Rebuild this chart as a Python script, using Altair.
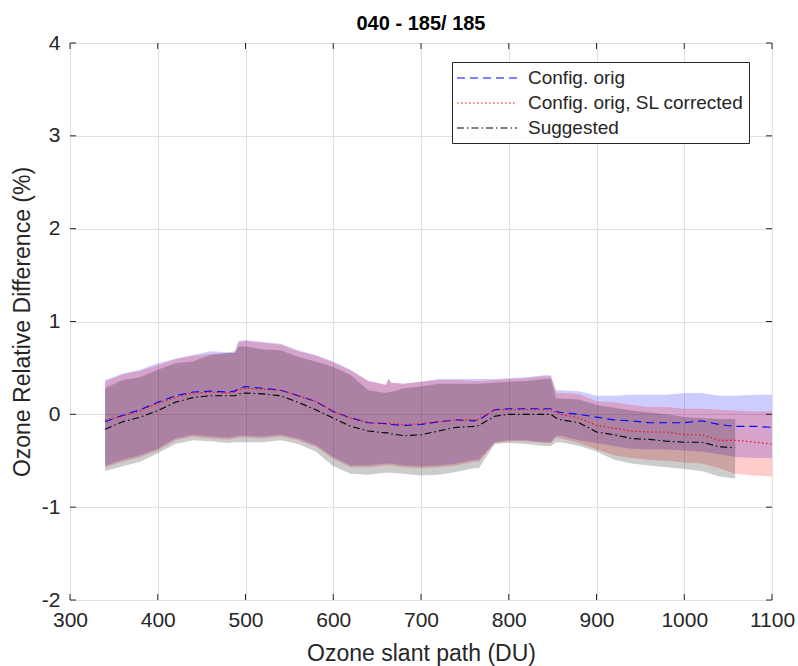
import altair as alt
import pandas as pd

# ---------------- data ----------------
X = [340, 360, 380, 400, 420, 440, 460, 480, 488, 492, 500, 520, 540, 560, 580,
     600, 620, 640, 660, 663, 666, 680, 700, 720, 740, 760, 766, 784, 800, 820,
     840, 848, 854, 860, 880, 900, 920, 940, 960, 980, 1000, 1020, 1040, 1058,
     1080, 1100]

blue_mid = [-0.08, -0.01, 0.05, 0.13, 0.20, 0.24, 0.25, 0.24, 0.25, 0.28, 0.30, 0.28,
            0.26, 0.20, 0.14, 0.03, -0.04, -0.09, -0.10, -0.10, -0.11, -0.12, -0.11,
            -0.08, -0.06, -0.07, -0.06, 0.05, 0.06, 0.06, 0.06, 0.06, 0.03, 0.02, 0.0,
            -0.03, -0.06, -0.07, -0.09, -0.09, -0.09, -0.07, -0.11, -0.13, -0.13, -0.14]
blue_up = [0.37, 0.44, 0.48, 0.55, 0.60, 0.64, 0.68, 0.67, 0.68, 0.79, 0.80, 0.78,
           0.76, 0.69, 0.64, 0.57, 0.48, 0.36, 0.32, 0.39, 0.34, 0.33, 0.35, 0.38,
           0.38, 0.38, 0.38, 0.38, 0.39, 0.40, 0.42, 0.42, 0.26, 0.26, 0.25, 0.20,
           0.20, 0.21, 0.21, 0.21, 0.23, 0.23, 0.20, 0.20, 0.21, 0.21]
blue_lo = [-0.55, -0.49, -0.44, -0.37, -0.26, -0.22, -0.24, -0.25, -0.24, -0.23, -0.23,
           -0.24, -0.22, -0.26, -0.33, -0.46, -0.55, -0.55, -0.53, -0.53, -0.53, -0.55,
           -0.56, -0.55, -0.53, -0.49, -0.49, -0.30, -0.28, -0.28, -0.30, -0.30, -0.23,
           -0.23, -0.28, -0.31, -0.34, -0.37, -0.38, -0.38, -0.39, -0.40, -0.43, -0.46,
           -0.47, -0.47]

red_mid = [-0.06, -0.02, 0.04, 0.12, 0.18, 0.23, 0.24, 0.23, 0.24, 0.27, 0.28, 0.27,
           0.26, 0.20, 0.14, 0.03, -0.04, -0.09, -0.10, -0.10, -0.10, -0.11, -0.10,
           -0.08, -0.06, -0.06, -0.05, 0.05, 0.05, 0.05, 0.05, 0.05, 0.02, 0.0, -0.04,
           -0.12, -0.15, -0.18, -0.19, -0.19, -0.22, -0.22, -0.28, -0.28, -0.30, -0.32]
red_up = [0.35, 0.43, 0.47, 0.53, 0.59, 0.63, 0.65, 0.66, 0.67, 0.78, 0.79, 0.77,
          0.75, 0.68, 0.63, 0.56, 0.47, 0.36, 0.32, 0.38, 0.34, 0.33, 0.35, 0.37,
          0.37, 0.36, 0.36, 0.37, 0.38, 0.39, 0.41, 0.41, 0.23, 0.23, 0.22, 0.14,
          0.13, 0.10, 0.08, 0.08, 0.06, 0.06, 0.05, 0.04, 0.03, 0.03]
red_lo = [-0.57, -0.51, -0.46, -0.39, -0.28, -0.24, -0.26, -0.27, -0.26, -0.25, -0.25,
          -0.26, -0.24, -0.28, -0.35, -0.48, -0.57, -0.57, -0.55, -0.55, -0.55, -0.57,
          -0.58, -0.57, -0.55, -0.51, -0.51, -0.31, -0.29, -0.29, -0.31, -0.31, -0.25,
          -0.26, -0.31, -0.38, -0.44, -0.47, -0.49, -0.50, -0.52, -0.53, -0.58, -0.64,
          -0.66, -0.67]

X_sug = X[:44]
sug_mid = [-0.16, -0.08, -0.03, 0.04, 0.13, 0.18, 0.20, 0.20, 0.20, 0.22, 0.23, 0.22,
           0.20, 0.13, 0.05, -0.04, -0.13, -0.18, -0.20, -0.20, -0.21, -0.23, -0.22,
           -0.18, -0.14, -0.13, -0.12, -0.02, 0.0, 0.0, 0.0, 0.0, -0.04, -0.06, -0.09,
           -0.19, -0.22, -0.26, -0.27, -0.29, -0.30, -0.30, -0.35, -0.36]
sug_up = [0.28, 0.37, 0.40, 0.48, 0.55, 0.57, 0.64, 0.66, 0.66, 0.73, 0.73, 0.70,
          0.69, 0.62, 0.57, 0.51, 0.42, 0.26, 0.23, 0.24, 0.24, 0.28, 0.30, 0.33,
          0.33, 0.33, 0.33, 0.34, 0.35, 0.36, 0.38, 0.38, 0.17, 0.17, 0.16, 0.10,
          0.07, 0.04, 0.02, 0.0, -0.03, -0.04, -0.05, -0.05]
sug_lo = [-0.61, -0.56, -0.51, -0.42, -0.32, -0.28, -0.29, -0.31, -0.30, -0.30, -0.30,
          -0.30, -0.28, -0.32, -0.40, -0.56, -0.64, -0.65, -0.63, -0.63, -0.63, -0.64,
          -0.66, -0.65, -0.62, -0.58, -0.58, -0.32, -0.31, -0.32, -0.34, -0.34, -0.30,
          -0.30, -0.34, -0.40, -0.49, -0.53, -0.55, -0.57, -0.59, -0.61, -0.67, -0.69]

series_names = ["Config. orig", "Config. orig, SL corrected", "Suggested"]
line_colors = ["#0000ff", "#ff0000", "#000000"]
band_colors = ["#0000ff", "#ff0000", "#000000"]
x_ticks = [300, 400, 500, 600, 700, 800, 900, 1000, 1100]
y_ticks = [-2, -1, 0, 1, 2, 3, 4]
title_text = "040 - 185/ 185"

# ---------------- tables ----------------
def table(xs, mid, lo, up, name):
    return pd.DataFrame({"x": xs, "mid": mid, "lo": lo, "up": up, "series": name})

frames = [
    table(X, blue_mid, blue_lo, blue_up, series_names[0]),
    table(X, red_mid, red_lo, red_up, series_names[1]),
    table(X_sug, sug_mid, sug_lo, sug_up, series_names[2]),
]
df_all = pd.concat(frames, ignore_index=True)

W, H = 702, 557
FONT = "Liberation Sans"
TXT = "#262626"

xscale = alt.Scale(domain=[300, 1100], nice=False, zero=False)
yscale = alt.Scale(domain=[-2, 4], nice=False, zero=False)

xaxis = alt.Axis(
    values=x_ticks, title="Ozone slant path (DU)", labelExpr="'' + datum.value",
    grid=True, gridColor="#e0e0e0", ticks=False, domain=False,
    labelFontSize=21, titleFontSize=23, labelColor=TXT, titleColor=TXT,
    labelPadding=9, titlePadding=12, labelFont=FONT, titleFont=FONT,
    titleFontWeight="normal", labelFlush=False)
yaxis = alt.Axis(
    values=y_ticks, title="Ozone Relative Difference (%)", labelExpr="'' + datum.value",
    grid=True, gridColor="#e0e0e0", ticks=False, domain=False,
    labelFontSize=21, titleFontSize=23, labelColor=TXT, titleColor=TXT,
    labelPadding=10, titlePadding=7, labelFont=FONT, titleFont=FONT,
    titleFontWeight="normal", labelFlush=False)

def xq(field):
    return alt.X(field, scale=xscale, axis=xaxis)

def yq(field):
    return alt.Y(field, scale=yscale, axis=yaxis)

layers = []
# bands
for i, name in enumerate(series_names):
    band = alt.Chart(frames[i]).mark_area(
        color=band_colors[i], opacity=0.2, interpolate="linear").encode(
        x=xq("x:Q"), y=yq("lo:Q"), y2="up:Q")
    layers.append(band)

legend = alt.Legend(
    orient="none", legendX=382, legendY=19, title=None,
    strokeColor=TXT, fillColor="#ffffff", padding=5,
    symbolType="M-3,0H3", symbolSize=400, symbolStrokeWidth=1.2,
    symbolOffset=19, labelOffset=30,
    labelFontSize=19, labelFont=FONT, labelColor=TXT, rowPadding=4,
    labelLimit=400)

# lines with legend
lines = alt.Chart(df_all).mark_line(strokeWidth=1.1).encode(
    x=xq("x:Q"),
    y=yq("mid:Q"),
    color=alt.Color("series:N", scale=alt.Scale(domain=series_names, range=line_colors),
                    legend=legend),
    strokeDash=alt.StrokeDash("series:N", scale=alt.Scale(
        domain=series_names, range=[[8, 5], [1.5, 2.5], [7, 3, 1.5, 3]]), legend=legend),
)
layers.append(lines)

# inward ticks (MATLAB style)
xt = pd.DataFrame({"t": x_ticks})
yt = pd.DataFrame({"t": y_ticks})
tick_col = TXT
layers.append(alt.Chart(xt).mark_rule(color=tick_col, strokeWidth=1).encode(
    x=xq("t:Q"), y=alt.value(H), y2=alt.value(H - 6)))
layers.append(alt.Chart(xt).mark_rule(color=tick_col, strokeWidth=1).encode(
    x=xq("t:Q"), y=alt.value(0), y2=alt.value(6)))
layers.append(alt.Chart(yt).mark_rule(color=tick_col, strokeWidth=1).encode(
    y=yq("t:Q"), x=alt.value(0), x2=alt.value(6)))
layers.append(alt.Chart(yt).mark_rule(color=tick_col, strokeWidth=1).encode(
    y=yq("t:Q"), x=alt.value(W), x2=alt.value(W - 6)))

chart = alt.layer(*layers).properties(
    width=W, height=H,
    title=alt.TitleParams(title_text, fontSize=20, fontWeight="bold", font=FONT,
                          color="#000000", anchor="middle", offset=-2),
    autosize=alt.AutoSizeParams(type="none"),
    padding={"left": 70, "top": 43, "right": 26, "bottom": 66},
).configure_view(stroke=TXT, strokeWidth=1).configure(background="#ffffff")

chart.save("out.html", embed_options={"renderer": "svg", "actions": False})
